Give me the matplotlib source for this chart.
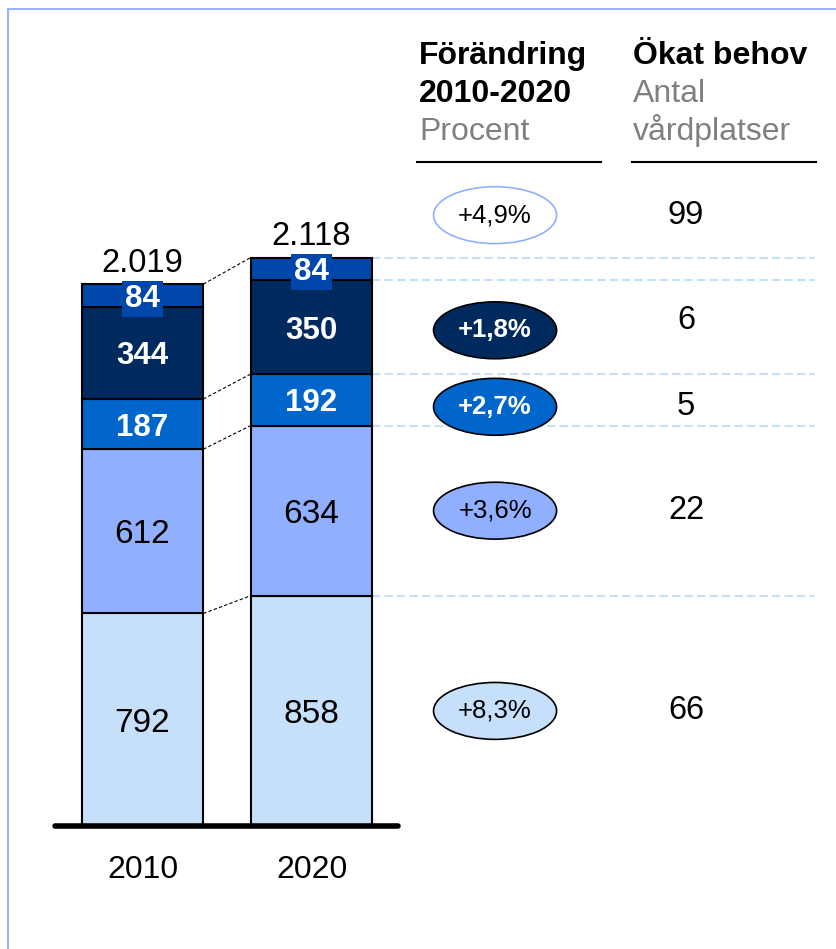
import matplotlib.pyplot as plt
from matplotlib.patches import Ellipse
from matplotlib.lines import Line2D
import numpy as np

plt.rcParams['font.family'] = ['Liberation Sans', 'DejaVu Sans']

# data
years = ['2010', '2020']
v2010 = [792, 612, 187, 344, 84]
v2020 = [858, 634, 192, 350, 84]
total_labels = ['2.019', '2.118']
pct_labels = ['+8,3%', '+3,6%', '+2,7%', '+1,8%']   # per segment, bottom up
pct_total = '+4,9%'
okat = ['66', '22', '5', '6']
okat_total = '99'

colors = ['#C6DFFA', '#90AFFF', '#0066CC', '#002A5E', '#0047AB']
txtcol = ['black', 'black', 'white', 'white', 'white']
weight = ['normal', 'normal', 'bold', 'bold', 'bold']
lblsize = [24, 24, 22.5, 22.5, 22.5]

fig = plt.figure(figsize=(8.37, 9.49), dpi=100)
ax = fig.add_axes([0, 0, 1, 1])
ax.set_xlim(-0.843, 4.109)
ax.set_ylim(-458, 3077.5)
ax.axis('off')

w = 0.72
vals = np.array([v2010, v2020])
cum = np.cumsum(vals, axis=1)
bottoms = cum - vals

for i in range(5):
    for j in range(2):
        ax.bar(j, vals[j, i], bottom=bottoms[j, i], width=w, color=colors[i],
               edgecolor='black', linewidth=1.5, zorder=2)
        mid = bottoms[j, i] + vals[j, i] / 2
        if i == 4:
            ax.text(j, mid, str(vals[j, i]), ha='center', va='center_baseline',
                    fontsize=lblsize[i], color='white', fontweight='bold', zorder=5,
                    bbox=dict(boxstyle='square,pad=0.1', fc='#0047AB', ec='none'))
        else:
            ax.text(j, mid, str(vals[j, i]), ha='center', va='center_baseline',
                    fontsize=lblsize[i], color=txtcol[i], fontweight=weight[i], zorder=5)

# totals
for j in range(2):
    ax.text(j, cum[j, -1] + 45, total_labels[j], ha='center', va='baseline', fontsize=23.5)
    ax.text(j, -164, years[j], ha='center', va='center', fontsize=23)

# baseline
ax.plot([-0.518, 1.512], [0, 0], color='black', lw=4, solid_capstyle='round', zorder=3)

# connectors between bars
for i in [0, 1, 2, 4]:
    ax.plot([w / 2, 1 - w / 2], [cum[0, i], cum[1, i]], color='black', lw=0.8,
            dashes=(3, 2), zorder=1)

# light blue dashed guides to the right
for i in [0, 1, 2, 3, 4]:
    ax.plot([1 + w / 2, 3.98], [cum[1, i], cum[1, i]], color='#C6DFFA', lw=1.5,
            dashes=(4, 2), zorder=1)

# ellipses with percent change
ex, ew, eh = 2.086, 0.728, 212
mids = bottoms[1] + vals[1] / 2
nudge = [0, 0, -26, -12]
for i in range(4):
    y = mids[i] + nudge[i]
    ax.add_patch(Ellipse((ex, y), ew, eh, fc=colors[i], ec='black', lw=1.2, zorder=3))
    ax.text(ex, y, pct_labels[i], ha='center', va='center', fontsize=18.5,
            color=txtcol[i], fontweight=weight[i], zorder=4)
    ny = y + 35 if i == 3 else y
    ax.text(3.216, ny, okat[i], ha='center', va='center', fontsize=23.5)

ytot = cum[1, -1] + 158
ax.add_patch(Ellipse((ex, ytot), ew, eh, fc='white', ec='#90AFFF', lw=1.2, zorder=3))
ax.text(ex, ytot, pct_total, ha='center', va='center', fontsize=18.5, zorder=4)
ax.text(3.216, ytot, okat_total, ha='center', va='center', fontsize=23.5)

# column headers
H = 949.0
def fy(px):
    return 1 - px / H

fig.text(419 / 837, fy(64), 'Förändring', fontsize=23, fontweight='bold', va='baseline')
fig.text(419 / 837, fy(102), '2010-2020', fontsize=23, fontweight='bold', va='baseline')
fig.text(419 / 837, fy(140), 'Procent', fontsize=23, color='#808080', va='baseline')
fig.text(633 / 837, fy(64), 'Ökat behov', fontsize=23, fontweight='bold', va='baseline')
fig.text(633 / 837, fy(102), 'Antal', fontsize=23, color='#808080', va='baseline')
fig.text(633 / 837, fy(140), 'vårdplatser', fontsize=23, color='#808080', va='baseline')

fig.add_artist(Line2D([417 / 837, 601 / 837], [fy(162), fy(162)], color='black', lw=1.5))
fig.add_artist(Line2D([632 / 837, 816 / 837], [fy(162), fy(162)], color='black', lw=1.5))

# frame lines
fig.add_artist(Line2D([8 / 837, 8 / 837], [0, fy(9)], color='#99B3FF', lw=1.5))
fig.add_artist(Line2D([8 / 837, 1], [fy(9), fy(9)], color='#99B3FF', lw=1.5))

fig.savefig('out.png', dpi=100)
